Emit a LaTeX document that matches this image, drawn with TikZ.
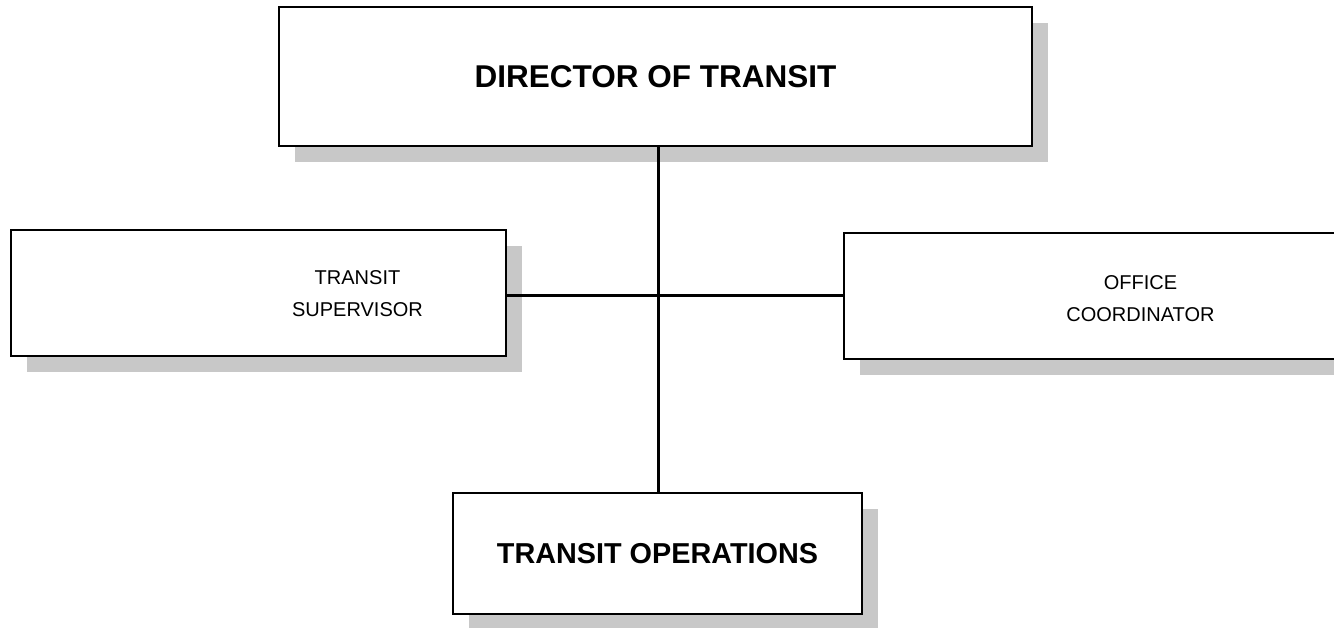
\documentclass[tikz,border=0pt]{standalone}
\usepackage{fontspec}
\setmainfont{Liberation Sans}
\usetikzlibrary{shadows}
\definecolor{shadowc}{RGB}{200,200,200}
\begin{document}
\begin{tikzpicture}[x=1pt,y=-1pt,
  orgbox/.style={draw=black, line width=2.2pt, fill=white, inner sep=0pt,
    general shadow={shadow xshift=16pt, shadow yshift=-16pt, fill=shadowc}},
  link/.style={draw=black, line width=3pt},
  big/.style={font=\fontsize{31.5}{36}\selectfont\bfseries},
  mid/.style={font=\fontsize{28.8}{34}\selectfont\bfseries},
  small/.style={font=\fontsize{20}{32}\selectfont, align=center}]
\useasboundingbox (0,0) rectangle (1334,627);
\clip (0,0) rectangle (1334,627);
\node[orgbox, minimum width=753pt, minimum height=139pt, big] (director) at (655.5,76.5) {DIRECTOR OF TRANSIT};
\node[orgbox, minimum width=495pt, minimum height=126pt,
  label={[small, xshift=99pt, yshift=-1pt]center:TRANSIT\\SUPERVISOR}] (sup) at (258.5,293) {};
\node[orgbox, minimum width=501pt, minimum height=126pt,
  label={[small, xshift=46pt, yshift=-3pt]center:OFFICE\\COORDINATOR}] (coord) at (1094.5,296) {};
\node[orgbox, minimum width=409pt, minimum height=121pt, mid] (ops) at (657.5,553.5) {TRANSIT OPERATIONS};
\coordinate (hub) at (658,295);
\draw[link] (director.south -| hub) -- (ops.north -| hub);
\draw[link] (sup.east |- hub) -- (coord.west |- hub);
\end{tikzpicture}
\end{document}
